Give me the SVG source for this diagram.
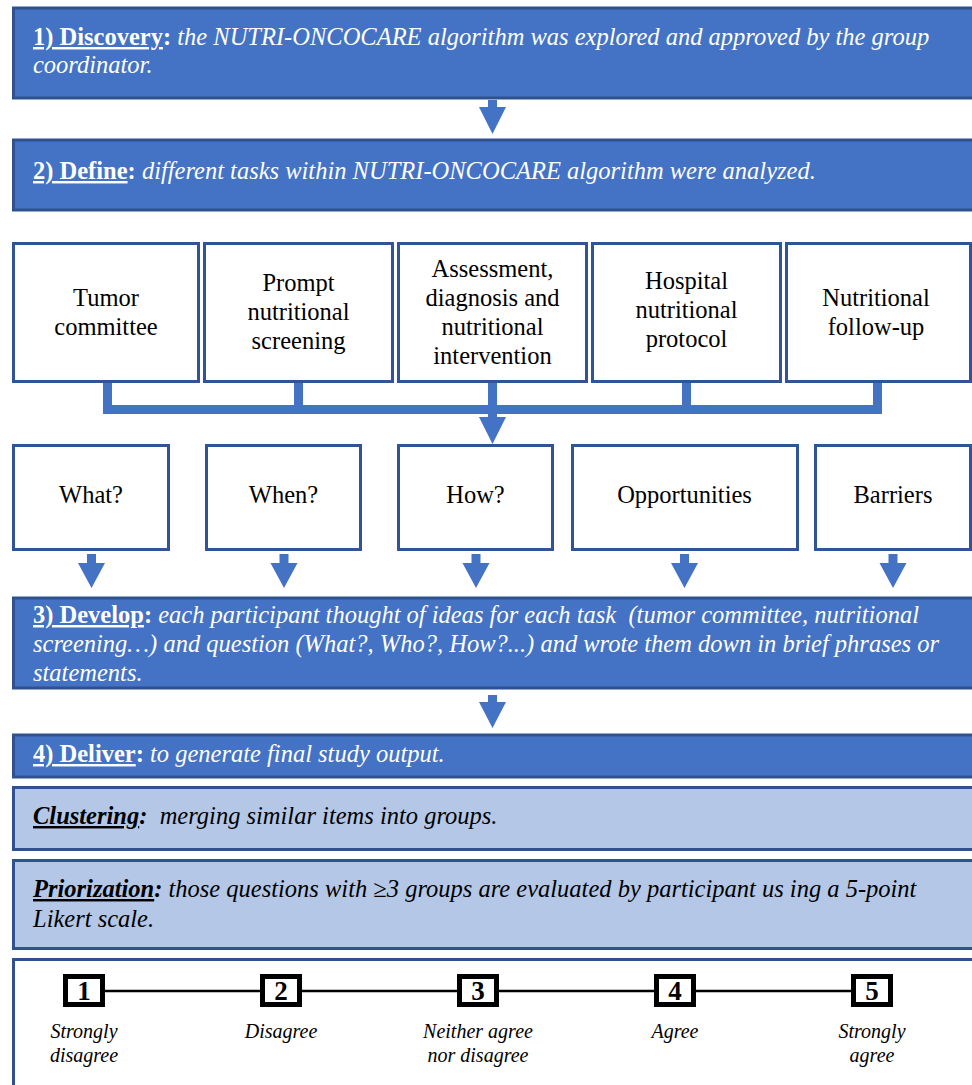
<svg xmlns="http://www.w3.org/2000/svg" width="972" height="1085" viewBox="0 0 972 1085" font-family="Liberation Serif, Times New Roman, serif">
<defs>
<style>
.stage{fill:#4472C4;stroke:#2F528F;stroke-width:3}
.light{fill:#B4C7E7;stroke:#2F528F;stroke-width:3}
.task{fill:#FFFFFF;stroke:#2F5597;stroke-width:3}
.scale{fill:#FFFFFF;stroke:#2F528F;stroke-width:3}
.conn{fill:#4472C4;stroke:none}
.bar{fill:none;stroke:#4472C4;stroke-width:9}
.t{font-size:24.5px}
.w{fill:#FFFFFF}
.k{fill:#000000}
.b{font-weight:bold}
.i{font-style:italic}
.u{text-decoration:underline}
.c{text-anchor:middle}
.sq{fill:#FFFFFF;stroke:#000000;stroke-width:5}
.num{font-size:27px;font-weight:bold;text-anchor:middle;fill:#000}
.lab{font-size:20px;font-style:italic;text-anchor:middle;fill:#000}
</style>
</defs>

<g id="connectors">
  <polygon class="conn" points="488,100 497,100 497,107 506,107 492.5,134 479,107 488,107"/>
  <path class="bar" d="M107.5,382 V409.5 H877.5 V382 M298.5,382 V409.5 M686.5,382 V409.5"/>
  <polygon class="conn" points="488,382 497,382 497,417 506,417 492.5,444 479,417 488,417"/>
  <polygon class="conn" points="87,554 96,554 96,563 105,563 91.5,588 78,563 87,563"/>
  <polygon class="conn" points="279.5,554 288.5,554 288.5,563 297.5,563 284,588 270.5,563 279.5,563"/>
  <polygon class="conn" points="471.5,554 480.5,554 480.5,563 489.5,563 476,588 462.5,563 471.5,563"/>
  <polygon class="conn" points="680,554 689,554 689,563 698,563 684.5,588 671,563 680,563"/>
  <polygon class="conn" points="888.5,554 897.5,554 897.5,563 906.5,563 893,588 879.5,563 888.5,563"/>
  <polygon class="conn" points="488,695 497,695 497,702 506,702 492.5,728 479,702 488,702"/>
</g>

<g id="discovery">
  <rect class="stage" x="13.5" y="8" width="962" height="90"/>
  <text class="t w" x="33" y="45"><tspan class="b u">1) Discovery</tspan><tspan class="b">:</tspan><tspan class="i"> the NUTRI-ONCOCARE algorithm was explored and approved by the group</tspan></text>
  <text class="t w i" x="33" y="73">coordinator.</text>
</g>

<g id="define">
  <rect class="stage" x="13.5" y="140" width="962" height="70"/>
  <text class="t w" x="33" y="179"><tspan class="b u">2) Define</tspan><tspan class="b">:</tspan><tspan class="i"> different tasks within NUTRI-ONCOCARE algorithm were analyzed.</tspan></text>
</g>

<g id="task-tumor">
  <rect class="task" x="13.5" y="243.5" width="185" height="138"/>
  <text class="t c k" x="106" y="306">Tumor</text>
  <text class="t c k" x="106" y="335">committee</text>
</g>
<g id="task-screening">
  <rect class="task" x="204.5" y="243.5" width="188" height="138"/>
  <text class="t c k" x="298.5" y="291">Prompt</text>
  <text class="t c k" x="298.5" y="320">nutritional</text>
  <text class="t c k" x="298.5" y="349">screening</text>
</g>
<g id="task-assessment">
  <rect class="task" x="398.5" y="243.5" width="188" height="138"/>
  <text class="t c k" x="492.5" y="277">Assessment,</text>
  <text class="t c k" x="492.5" y="306">diagnosis and</text>
  <text class="t c k" x="492.5" y="335">nutritional</text>
  <text class="t c k" x="492.5" y="364">intervention</text>
</g>
<g id="task-hospital">
  <rect class="task" x="592.5" y="243.5" width="188" height="138"/>
  <text class="t c k" x="686.5" y="289">Hospital</text>
  <text class="t c k" x="686.5" y="318">nutritional</text>
  <text class="t c k" x="686.5" y="347">protocol</text>
</g>
<g id="task-followup">
  <rect class="task" x="786.5" y="243.5" width="184" height="138"/>
  <text class="t c k" x="876" y="306">Nutritional</text>
  <text class="t c k" x="876" y="335">follow-up</text>
</g>

<g id="q-what">
  <rect class="task" x="13.5" y="445.5" width="155" height="104"/>
  <text class="t c k" x="91" y="503">What?</text>
</g>
<g id="q-when">
  <rect class="task" x="206.5" y="445.5" width="154" height="104"/>
  <text class="t c k" x="283.5" y="503">When?</text>
</g>
<g id="q-how">
  <rect class="task" x="398.5" y="445.5" width="154" height="104"/>
  <text class="t c k" x="475.5" y="503">How?</text>
</g>
<g id="q-opportunities">
  <rect class="task" x="572.5" y="445.5" width="225" height="104"/>
  <text class="t c k" x="684.5" y="503">Opportunities</text>
</g>
<g id="q-barriers">
  <rect class="task" x="815.5" y="445.5" width="155" height="104"/>
  <text class="t c k" x="893" y="503">Barriers</text>
</g>

<g id="develop">
  <rect class="stage" x="13.5" y="598" width="962" height="90"/>
  <text class="t w" x="33" y="623" xml:space="preserve"><tspan class="b u">3) Develop</tspan><tspan class="b">:</tspan><tspan class="i"> each participant thought of ideas for each task  (tumor committee, nutritional</tspan></text>
  <text class="t w i" x="33" y="652">screening…) and question (What?, Who?, How?...) and wrote them down in brief phrases or</text>
  <text class="t w i" x="33" y="681">statements.</text>
</g>

<g id="deliver">
  <rect class="stage" x="13.5" y="735" width="962" height="42"/>
  <text class="t w" x="33" y="762"><tspan class="b u">4) Deliver</tspan><tspan class="b">:</tspan><tspan class="i"> to generate final study output.</tspan></text>
</g>

<g id="clustering">
  <rect class="light" x="13.5" y="787.5" width="962" height="62"/>
  <text class="t k i" x="33" y="824" xml:space="preserve"><tspan class="b u">Clustering</tspan><tspan class="b">:</tspan>  merging similar items into groups.</text>
</g>

<g id="priorization">
  <rect class="light" x="13.5" y="860.5" width="962" height="88"/>
  <text class="t k i" x="33" y="897"><tspan class="b u">Priorization</tspan><tspan class="b">:</tspan> those questions with ≥3 groups are evaluated by participant us ing a 5-point</text>
  <text class="t k i" x="33" y="927">Likert scale.</text>
</g>

<g id="likert">
  <rect class="scale" x="13.5" y="959.5" width="962" height="140"/>
  <line x1="104" y1="991" x2="856" y2="991" stroke="#000" stroke-width="2.5"/>
  <g id="likert-1">
    <rect class="sq" x="65.5" y="976.5" width="37" height="28"/>
    <text class="num" x="84" y="1000">1</text>
    <text class="lab" x="84" y="1038">Strongly</text>
    <text class="lab" x="84" y="1062">disagree</text>
  </g>
  <g id="likert-2">
    <rect class="sq" x="262.5" y="976.5" width="37" height="28"/>
    <text class="num" x="281" y="1000">2</text>
    <text class="lab" x="281" y="1038">Disagree</text>
  </g>
  <g id="likert-3">
    <rect class="sq" x="459.5" y="976.5" width="37" height="28"/>
    <text class="num" x="478" y="1000">3</text>
    <text class="lab" x="478" y="1038">Neither agree</text>
    <text class="lab" x="478" y="1062">nor disagree</text>
  </g>
  <g id="likert-4">
    <rect class="sq" x="656.5" y="976.5" width="37" height="28"/>
    <text class="num" x="675" y="1000">4</text>
    <text class="lab" x="675" y="1038">Agree</text>
  </g>
  <g id="likert-5">
    <rect class="sq" x="853.5" y="976.5" width="37" height="28"/>
    <text class="num" x="872" y="1000">5</text>
    <text class="lab" x="872" y="1038">Strongly</text>
    <text class="lab" x="872" y="1062">agree</text>
  </g>
</g>
</svg>
